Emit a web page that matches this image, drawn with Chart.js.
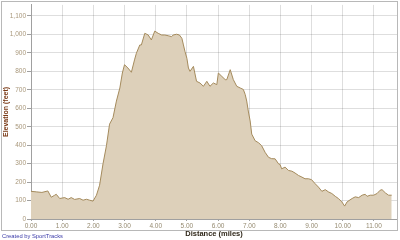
<!DOCTYPE html>
<html><head><meta charset="utf-8">
<script src="https://cdn.jsdelivr.net/npm/chart.js@4/dist/chart.umd.min.js"></script>
<style>html,body{margin:0;padding:0;background:#fff}#wrap{width:400px;height:240px;position:relative}</style>
</head><body><div id="wrap"><canvas id="c" width="400" height="240"></canvas></div>
<script>
const distances = [0.00,0.17,0.35,0.54,0.65,0.76,0.81,0.92,1.08,1.19,1.29,1.40,1.56,1.67,1.78,1.88,1.99,2.10,2.20,2.31,2.42,2.52,2.63,2.74,2.85,2.93,3.00,3.11,3.22,3.32,3.38,3.49,3.54,3.65,3.76,3.86,3.97,4.08,4.19,4.29,4.40,4.51,4.56,4.67,4.76,4.84,4.89,4.94,5.00,5.05,5.10,5.21,5.31,5.42,5.53,5.64,5.74,5.85,5.96,6.01,6.12,6.23,6.28,6.39,6.49,6.60,6.71,6.81,6.87,6.92,6.97,7.03,7.08,7.19,7.30,7.40,7.51,7.62,7.72,7.83,7.94,7.99,8.04,8.15,8.26,8.37,8.47,8.58,8.69,8.79,8.90,9.00,9.11,9.22,9.33,9.44,9.54,9.65,9.76,9.86,9.97,10.06,10.14,10.30,10.40,10.51,10.62,10.72,10.78,10.88,10.99,11.10,11.20,11.26,11.37,11.47,11.57];
const elevations = [150,147,144,152,118,129,134,111,116,107,116,106,111,102,107,102,97,129,183,299,397,514,549,639,710,791,836,818,795,862,898,943,943,1006,997,970,1018,1006,997,997,993,988,997,1001,997,979,943,907,871,818,800,827,746,737,719,746,719,737,728,791,773,755,755,809,755,719,710,702,675,639,585,531,460,424,413,397,361,334,327,326,299,295,272,281,263,259,249,236,227,218,218,213,192,173,150,159,147,138,123,111,93,70,93,111,120,116,129,134,123,129,129,138,156,159,141,129,129];
const yTicks = [0,100,200,300,400,500,600,700,800,900,1000,1100];
const xTicks = [0,1,2,3,4,5,6,7,8,9,10,11];
const yTitle = 'Elevation (feet)';
const xTitle = 'Distance (miles)';
const credit = 'Created by SportTracks';

const points = distances.map((d,i)=>({x:d,y:elevations[i]}));

const framePlugin = {
  id:'frame',
  afterDraw(chart){
    const ctx = chart.ctx;
    ctx.save();
    ctx.strokeStyle = '#b8b8b8';
    ctx.lineWidth = 1;
    ctx.strokeRect(1.5,1.5,396,229);
    ctx.fillStyle = '#3a3aa8';
    ctx.font = '5.8px "Liberation Sans"';
    ctx.textBaseline = 'middle';
    ctx.textAlign = 'left';
    ctx.fillText(credit, 2, 236);
    ctx.restore();
  }
};

new Chart(document.getElementById('c'), {
  type:'line',
  data:{datasets:[{
    data:points,
    borderColor:'#a48a5c',
    borderWidth:1,
    backgroundColor:'rgb(221,208,186)',
    fill:'origin',
    pointRadius:0,
    tension:0
  }]},
  options:{
    responsive:false,
    animation:false,
    events:[],
    layout:{padding:{left:0,top:3,right:3,bottom:0}},
    plugins:{legend:{display:false},tooltip:{enabled:false}},
    scales:{
      x:{
        type:'linear', min:0, max:11.74, z:1,
        afterBuildTicks(s){ s.ticks = xTicks.map(v=>({value:v})); },
        afterFit(s){ s.height = 21; },
        grid:{color:'rgba(0,0,0,0.13)', tickLength:2, tickColor:'#a0a0a0'},
        border:{color:'#a0a0a0'},
        ticks:{autoSkip:false, maxRotation:0, padding:1, color:'#958a70',
          font:{family:'"Liberation Sans"', size:6.5},
          callback:v=>Number(v).toFixed(2)},
        title:{display:true, text:xTitle, color:'#2e2618', padding:{top:0,bottom:2},
          font:{family:'"Liberation Sans"', size:7.5, weight:'bold'}}
      },
      y:{
        min:0, max:1160, z:1,
        afterBuildTicks(s){ s.ticks = yTicks.map(v=>({value:v})); },
        afterFit(s){ s.width = 31; },
        grid:{color:'rgba(0,0,0,0.13)', tickLength:4, tickColor:'#a0a0a0'},
        border:{color:'#a0a0a0'},
        ticks:{padding:1, color:'#a8977a',
          font:{family:'"Liberation Sans"', size:6.5},
          callback:v=>Number(v).toLocaleString('en-US')},
        title:{display:true, text:yTitle, color:'#7a3a16', padding:{top:2,bottom:0},
          font:{family:'"Liberation Sans"', size:7, weight:'bold'}}
      }
    }
  },
  plugins:[framePlugin]
});
</script></body></html>
